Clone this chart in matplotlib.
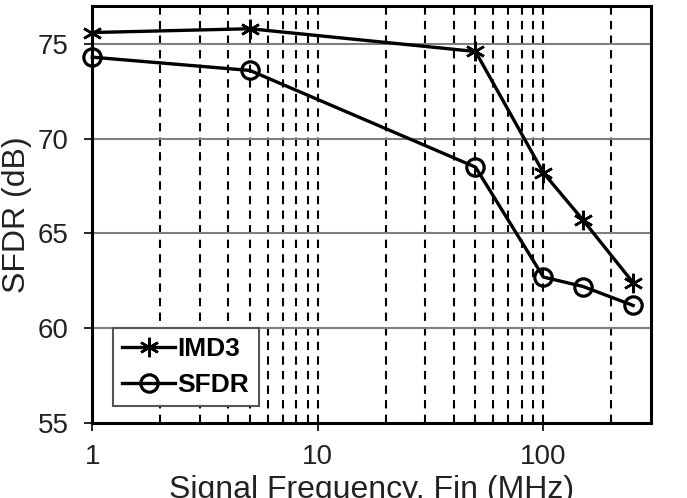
import matplotlib
matplotlib.use('Agg')
import matplotlib.pyplot as plt
from matplotlib.ticker import LogLocator, NullFormatter, FixedLocator, FixedFormatter

plt.rcParams['font.family'] = ['Liberation Sans', 'DejaVu Sans']

# データ (読み取り値)
freq = [1, 5, 50, 100, 150, 250]
imd3 = [75.6, 75.8, 74.6, 68.2, 65.7, 62.4]
sfdr = [74.3, 73.6, 68.5, 62.7, 62.2, 61.2]
xticks = [1, 10, 100]
xlabels = ['1', '10', '100']
yticks = [55, 60, 65, 70, 75]

fig = plt.figure(figsize=(6.87, 4.98), dpi=100)
ax = fig.add_axes([92.3 / 687, 1 - 423 / 498, (651 - 92.3) / 687, (423 - 6) / 498])

ax.set_xscale('log')
ax.set_xlim(1, 300)
ax.set_ylim(55, 77)

# 縦の破線グリッド
for dec in [1, 10, 100]:
    for m in range(1, 10):
        v = dec * m
        if 1 < v < 300:
            ax.axvline(v, color='black', linestyle=(0, (4, 3)), linewidth=1.5, zorder=1)
# 横の実線グリッド
for v in [60, 65, 70, 75]:
    ax.axhline(v, color='#7f7f7f', linewidth=1.5, zorder=1)

ax.plot(freq, imd3, color='black', linewidth=2.4, marker=(6, 2, 0), markersize=14,
        markeredgewidth=1.8, label='IMD3', zorder=3, clip_on=False)
ax.plot(freq, sfdr, color='black', linewidth=2.4, marker='o', markersize=12.5,
        markerfacecolor='none', markeredgewidth=2.3, label='SFDR', zorder=3, clip_on=False)

ax.xaxis.set_major_locator(FixedLocator(xticks))
ax.xaxis.set_major_formatter(FixedFormatter(xlabels))
ax.xaxis.set_minor_locator(LogLocator(subs=[]))
ax.xaxis.set_minor_formatter(NullFormatter())
ax.set_yticks(yticks)

ax.tick_params(axis='both', which='major', direction='out', length=6, width=1.2,
               labelsize=20, colors='black', labelcolor='#222222')
ax.tick_params(axis='x', pad=9)
ax.tick_params(axis='y', pad=11)
ax.tick_params(which='minor', length=0)

for s in ax.spines.values():
    s.set_linewidth(2.2)
    s.set_color('black')

ax.set_xlabel('Signal Frequency, Fin (MHz)', fontsize=23, labelpad=4, color='#222222')
ax.set_ylabel('SFDR (dB)', fontsize=23, labelpad=4, color='#222222')

leg = ax.legend(loc='lower left', bbox_to_anchor=(0.037, 0.04),
                prop={'weight': 'bold', 'size': 19}, frameon=True, fancybox=False,
                handlelength=2.0, handletextpad=0.1, borderpad=0.35, labelspacing=0.45,
                borderaxespad=0)
leg.get_frame().set_edgecolor('#555555')
leg.get_frame().set_linewidth(1.5)
leg.get_frame().set_alpha(1)

fig.savefig('out.png', dpi=100)
